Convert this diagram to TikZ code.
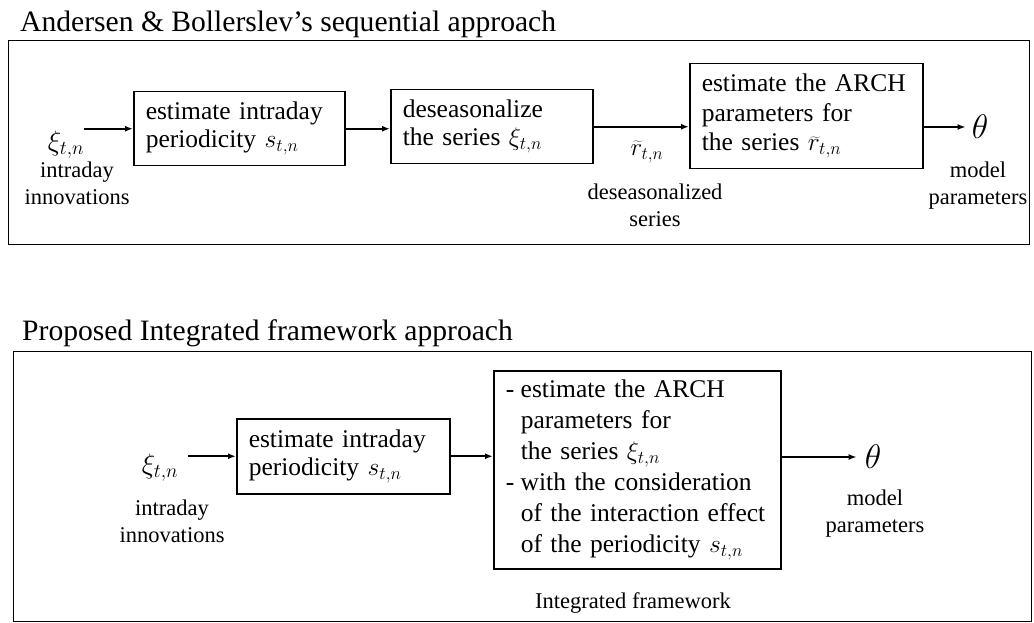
\RequirePackage{fix-cm}
\documentclass[tikz,border=0pt]{standalone}
\usepackage{fontspec}
\setmainfont{Liberation Serif}
\usetikzlibrary{arrows.meta}
\newcommand\dashmark{\makebox[15pt][l]{-}}
\newcommand\myind{\hspace*{15pt}}
\begin{document}
\begin{tikzpicture}[x=1pt,y=-1pt,
  box/.style={draw, line width=1.5pt, align=left, inner xsep=12pt, inner ysep=0pt, anchor=north west, font=\fontsize{25.5}{28}\selectfont},
  lbl/.style={align=center, inner sep=0pt, anchor=north, font=\fontsize{22.5}{26.5}\selectfont},
  arr/.style={-{Latex[length=8pt,width=6pt]}, line width=1.6pt},
  frame/.style={draw, line width=1.3pt, anchor=north west, inner sep=0pt},
  ttl/.style={anchor=base west, inner sep=0pt, font=\fontsize{29.6}{34}\selectfont},
  sym/.style={inner sep=0pt, font=\fontsize{28}{30}\selectfont},
  th/.style={inner sep=0pt, font=\fontsize{34}{34}\selectfont}]
\useasboundingbox (0,0) rectangle (1034,623);

% ---------- top panel ----------
\node[ttl] (t1) at (20,32) {Andersen \& Bollerslev's sequential approach};
\node[frame, minimum width=1021pt, minimum height=204pt] (f1) at (8,40) {};

\node[sym] (xi1) at (66,145) {$\xi_{t,n}$};
\node[lbl] (l1) at (77,162) {intraday\\innovations};
\node[box, text width=187pt, minimum height=74pt] (a1) at (133,91) {estimate intraday\\periodicity $s_{t,n}$};
\node[box, text width=178pt, minimum height=74pt] (a2) at (390,89) {deseasonalize\\the series $\xi_{t,n}$};
\node[box, text width=209pt, minimum height=105pt, font=\fontsize{25.5}{29.5}\selectfont] (a3) at (689,63) {estimate the ARCH\\parameters for\\the series $\widetilde{r}_{t,n}$};
\node[sym, font=\fontsize{25}{28}\selectfont] (r1) at (647,152) {$\widetilde{r}_{t,n}$};
\node[lbl] (l2) at (655,184) {deseasonalized\\series};
\node[th] (th1) at (980,127) {$\theta$};
\node[lbl] (l3) at (978,162) {model\\parameters};

\draw[arr] (xi1.east |- a1.west) -- (a1.west);
\draw[arr] (a1.east) -- (a1.east -| a2.west);
\draw[arr] (a2.east) -- (a2.east -| a3.west);
\draw[arr, shorten >=6pt] (a3.east |- th1) -- (th1.west);

% ---------- bottom panel ----------
\node[ttl] (t2) at (22,340) {Proposed Integrated framework approach};
\node[frame, minimum width=1018pt, minimum height=270pt] (f2) at (13,351) {};

\node[sym] (xi2) at (160,468) {$\xi_{t,n}$};
\node[lbl] (l4) at (172,500) {intraday\\innovations};
\node[box, text width=189pt, minimum height=75pt] (b1) at (236,418) {estimate intraday\\periodicity $s_{t,n}$};
\node[box, text width=263pt, minimum height=198pt, font=\fontsize{25.5}{31}\selectfont] (b2) at (493,370)
  {\dashmark estimate the ARCH\\\myind parameters for\\\myind the series $\xi_{t,n}$\\\dashmark with the consideration\\\myind of the interaction effect\\\myind of the periodicity $s_{t,n}$};
\node[lbl] (l6) at (633,592) {Integrated framework};
\node[th] (th2) at (873,457) {$\theta$};
\node[lbl] (l5) at (875,490) {model\\parameters};

\draw[arr, shorten <=10pt] (xi2.east |- b1.west) -- (b1.west);
\draw[arr] (b1.east) -- (b1.east -| b2.west);
\draw[arr, shorten >=8pt] (b2.east |- th2) -- (th2.west);
\end{tikzpicture}
\end{document}
